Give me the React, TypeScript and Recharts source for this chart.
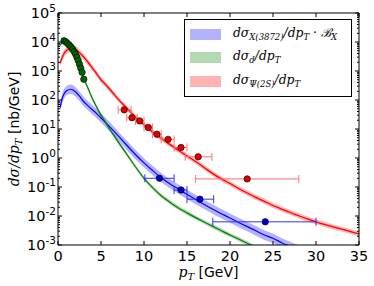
import React from 'react';
import { ComposedChart, Line, Area, Scatter, ErrorBar, XAxis, YAxis, ReferenceLine } from 'recharts';

// pT grid (GeV) shared by the three theory curves
const ptGrid = [0.25, 0.5, 0.75, 1, 1.5, 2, 2.5, 3, 3.5, 4, 4.5, 5, 5.5, 6, 6.5, 7, 8, 9, 10, 11, 12, 13, 14, 15, 16, 17, 18, 19, 20, 21, 22, 23, 24, 25, 26, 27, 28, 29, 30, 31, 32, 33, 34, 35];

// dsigma_Psi(2S)/dpT  (red)
const redMid = [1860, 3000, 4200, 5100, 6000, 5600, 4300, 3000, 2000, 1260, 800, 500, 350, 240, 160, 107, 52, 26, 14, 7.9, 4.8, 2.95, 1.86, 1.17, 0.76, 0.47, 0.29, 0.19, 0.132, 0.089, 0.062, 0.044, 0.032, 0.023, 0.0174, 0.0132, 0.0102, 0.0079, 0.0063, 0.0051, 0.0042, 0.0035, 0.0029, 0.0024];
const redLo = [1400, 2250, 3150, 3850, 4550, 4300, 3350, 2350, 1580, 1000, 640, 400, 282, 194, 130, 87, 42.5, 21.3, 11.5, 6.5, 3.95, 2.42, 1.53, 0.96, 0.62, 0.385, 0.238, 0.156, 0.108, 0.073, 0.051, 0.036, 0.026, 0.0189, 0.0143, 0.0108, 0.0084, 0.0065, 0.0052, 0.0042, 0.0034, 0.0029, 0.0024, 0.002];
const redHi = [2450, 3950, 5500, 6700, 7850, 7300, 5550, 3850, 2550, 1600, 1000, 625, 435, 297, 197, 131, 63.5, 31.7, 17.1, 9.6, 5.85, 3.6, 2.27, 1.43, 0.93, 0.575, 0.354, 0.232, 0.161, 0.109, 0.076, 0.054, 0.039, 0.0281, 0.0212, 0.0161, 0.0124, 0.0096, 0.0077, 0.0062, 0.0051, 0.0043, 0.0035, 0.0029];

// dsigma_X(3872)/dpT * B_X  (blue)
const blueMid = [55, 115, 170, 210, 235, 195, 135, 87, 63, 46, 34, 24, 17, 12, 8.4, 5.8, 2.75, 1.32, 0.68, 0.37, 0.21, 0.13, 0.085, 0.056, 0.037, 0.025, 0.017, 0.012, 0.0085, 0.006, 0.0043, 0.0031, 0.0022, 0.0017, 0.0012, 0.0009, 0.00068, 0.0005, null, null, null, null, null, null];
const blueLo = [38, 79, 117, 145, 162, 135, 93, 60, 43.5, 31.7, 23.5, 16.6, 11.7, 8.3, 5.8, 4.0, 1.9, 0.91, 0.47, 0.255, 0.145, 0.09, 0.059, 0.0386, 0.0255, 0.0173, 0.0117, 0.0083, 0.0059, 0.0041, 0.003, 0.0021, 0.0015, 0.00117, 0.00083, 0.00062, 0.00047, 0.00035, null, null, null, null, null, null];
const blueHi = [80, 167, 247, 305, 341, 283, 196, 126, 91, 66.7, 49, 34.8, 24.7, 17.4, 12.2, 8.4, 4.0, 1.91, 0.99, 0.54, 0.305, 0.189, 0.123, 0.081, 0.0537, 0.0363, 0.0247, 0.0174, 0.0123, 0.0087, 0.0062, 0.0045, 0.0032, 0.00247, 0.00174, 0.0013, 0.00099, 0.00073, null, null, null, null, null, null];

// dsigma_d/dpT  (green)
const greenMid = [7600, 10000, 11200, 10000, 6800, 4000, 1600, 560, 250, 112, 56, 30, 17.5, 10, 6, 3.6, 1.35, 0.5, 0.2, 0.095, 0.05, 0.03, 0.019, 0.0128, 0.0088, 0.0062, 0.0044, 0.0031, 0.0022, 0.0016, 0.00115, 0.00082, 0.0006, null, null, null, null, null, null, null, null, null, null, null];
const greenLo = [6460, 8500, 9520, 8500, 5780, 3400, 1360, 476, 212, 95, 47.6, 25.5, 14.9, 8.5, 5.1, 3.06, 1.15, 0.425, 0.17, 0.081, 0.0425, 0.0255, 0.0162, 0.0109, 0.0075, 0.0053, 0.0037, 0.0026, 0.0019, 0.00136, 0.00098, 0.0007, 0.00051, null, null, null, null, null, null, null, null, null, null, null];
const greenHi = [8970, 11800, 13200, 11800, 8020, 4720, 1890, 660, 295, 132, 66, 35.4, 20.7, 11.8, 7.1, 4.25, 1.59, 0.59, 0.236, 0.112, 0.059, 0.0354, 0.0224, 0.0151, 0.0104, 0.0073, 0.0052, 0.0037, 0.0026, 0.0019, 0.00136, 0.00097, 0.00071, null, null, null, null, null, null, null, null, null, null, null];

// measured points
const redPtX = [7.7, 8.6, 9.5, 10.5, 11.5, 12.8, 14.3, 16.3, 22];
const redPtY = [46, 24.5, 19, 11.3, 6.6, 4.4, 2.3, 1.1, 0.19];
const redBinLo = [7.0, 8.0, 9.0, 10.0, 11.0, 12.0, 13.5, 14.8, 16.0];
const redBinHi = [8.5, 9.2, 10.0, 11.0, 12.0, 13.5, 15.0, 17.9, 28.0];
const redYErr = [12, 4, 3, 1.6, 0.9, 0.6, 0.35, 0.18, 0.04];

const bluePtX = [11.8, 14.3, 16.5, 24.1];
const bluePtY = [0.2, 0.079, 0.038, 0.0063];
const blueBinLo = [10.1, 13.5, 15.0, 18.0];
const blueBinHi = [13.5, 15.0, 18.1, 30.0];
const blueYErr = [0.03, 0.012, 0.006, 0.001];

const greenPtX = [0.7, 0.9, 1.1, 1.3, 1.5, 1.7, 1.9, 2.05, 2.2, 2.35, 2.5, 2.65, 2.8, 3.0];
const greenPtY = [11000, 10200, 9000, 7900, 6800, 5600, 4600, 3800, 3000, 2300, 1700, 1250, 900, 520];

const xTicks = [0, 5, 10, 15, 20, 25, 30, 35];
const yTicks: number[] = [];
for (let e = -3; e <= 5; e++) {
  for (let m = 1; m <= 9; m++) {
    if (e === 5 && m > 1) break;
    yTicks.push(Number((m * Math.pow(10, e)).toPrecision(3)));
  }
}

const PL = 58, PR = 359, PT = 13, PB = 245;
const SANS = 'DejaVu Sans';
const MATH = 'DejaVu Serif';

const rows = ptGrid.map((pt, i) => ({
  pt,
  red: redMid[i],
  redBand: [redLo[i], redHi[i]],
  blue: blueMid[i],
  blueBand: blueLo[i] == null ? null : [blueLo[i], blueHi[i]],
  green: greenMid[i],
  greenBand: greenLo[i] == null ? null : [greenLo[i], greenHi[i]],
}));

const redPts = redPtX.map((pt, i) => ({ pt, val: redPtY[i], xerr: [pt - redBinLo[i], redBinHi[i] - pt], yerr: redYErr[i] }));
const bluePts = bluePtX.map((pt, i) => ({ pt, val: bluePtY[i], xerr: [pt - blueBinLo[i], blueBinHi[i] - pt], yerr: blueYErr[i] }));
const greenPts = greenPtX.map((pt, i) => ({ pt, val: greenPtY[i] }));

const isMajor = (v: number) => Math.abs(Math.log10(v) - Math.round(Math.log10(v))) < 1e-6;

const YTick = (props: any) => {
  const { y, payload } = props;
  const v = payload.value;
  const major = isMajor(v);
  const len = major ? 4 : 2;
  const e = Math.round(Math.log10(v));
  return (
    <g>
      <line x1={PL} x2={PL + len} y1={y} y2={y} stroke="#000" strokeWidth={1} />
      <line x1={PR} x2={PR - len} y1={y} y2={y} stroke="#000" strokeWidth={1} />
      {major && (
        <text x={56} y={y + 5} textAnchor="end" fontSize={14.5} fontFamily={SANS} fill="#000">
          10<tspan dy={-6} fontSize={10.5}>{e < 0 ? '-' + Math.abs(e) : String(e)}</tspan>
        </text>
      )}
    </g>
  );
};

const XTick = (props: any) => {
  const { x, payload } = props;
  return (
    <g>
      <line x1={x} x2={x} y1={PB} y2={PB - 4} stroke="#000" strokeWidth={1} />
      <line x1={x} x2={x} y1={PT} y2={PT + 4} stroke="#000" strokeWidth={1} />
      <text x={x} y={261} textAnchor="middle" fontSize={14.5} fontFamily={SANS} fill="#000">{payload.value}</text>
    </g>
  );
};

const XTitle = () => (
  <text x={(PL + PR) / 2} y={277} textAnchor="middle" fontSize={14} fontFamily={SANS} fill="#000">
    <tspan fontFamily={MATH} fontStyle="italic">p</tspan>
    <tspan fontFamily={MATH} fontStyle="italic" fontSize={10} dy={3}>T</tspan>
    <tspan dy={-3}>{' [GeV]'}</tspan>
  </text>
);

const YTitle = () => (
  <text x={19} y={(PT + PB) / 2} transform={`rotate(-90 19 ${(PT + PB) / 2})`} textAnchor="middle" fontSize={14} fontFamily={SANS} fill="#000">
    <tspan fontFamily={MATH} fontStyle="italic">dσ/dp</tspan>
    <tspan fontFamily={MATH} fontStyle="italic" fontSize={10} dy={3}>T</tspan>
    <tspan dy={-3}>{' [nb/GeV]'}</tspan>
  </text>
);

const dot = (fill: string) => (p: any) => (
  <circle cx={p.cx} cy={p.cy} r={3.2} fill={fill} stroke="#000" strokeWidth={0.6} />
);

const sub: React.CSSProperties = { fontSize: 8.5, verticalAlign: '-3px', lineHeight: 1 };

const legendItems = [
  {
    color: '#0000ff',
    label: (
      <>dσ<span style={sub}>X(3872)</span>/dp<span style={sub}>T</span>{' · ℬ'}<span style={sub}>X</span></>
    ),
  },
  { color: '#008000', label: (<>dσ<span style={sub}>d</span>/dp<span style={sub}>T</span></>) },
  { color: '#ff0000', label: (<>dσ<span style={sub}>Ψ(2S)</span>/dp<span style={sub}>T</span></>) },
];

export default function App() {
  return (
    <div style={{ position: 'absolute', left: 0, top: 0, width: 374, height: 286, background: '#fff' }}>
      <ComposedChart width={374} height={286} data={rows} margin={{ top: PT, right: 374 - PR, bottom: 0, left: 0 }}>
        <XAxis
          type="number"
          dataKey="pt"
          domain={[0, 35]}
          ticks={xTicks}
          interval={0}
          allowDataOverflow
          height={286 - PB}
          tick={<XTick />}
          tickLine={false}
          axisLine={{ stroke: '#000' }}
          label={<XTitle />}
        />
        <YAxis
          scale="log"
          domain={[0.001, 100000]}
          ticks={yTicks}
          interval={0}
          allowDataOverflow
          width={PL}
          tick={<YTick />}
          tickLine={false}
          axisLine={{ stroke: '#000' }}
          label={<YTitle />}
        />
        <Area dataKey="blueBand" type="monotone" stroke="none" fill="#0000ff" fillOpacity={0.3} isAnimationActive={false} />
        <Area dataKey="greenBand" type="monotone" stroke="none" fill="#008000" fillOpacity={0.3} isAnimationActive={false} />
        <Area dataKey="redBand" type="monotone" stroke="none" fill="#ff0000" fillOpacity={0.3} isAnimationActive={false} />
        <Line dataKey="blue" type="monotone" stroke="#0000ff" strokeWidth={1.2} dot={false} isAnimationActive={false} />
        <Line dataKey="green" type="monotone" stroke="#008000" strokeWidth={1.2} dot={false} isAnimationActive={false} />
        <Line dataKey="red" type="monotone" stroke="#ff0000" strokeWidth={1.3} dot={false} isAnimationActive={false} />
        <Scatter data={greenPts} dataKey="val" shape={dot('#006400')} isAnimationActive={false} />
        <Scatter data={redPts} dataKey="val" shape={dot('#e00000')} isAnimationActive={false}>
          <ErrorBar dataKey="xerr" direction="x" stroke="#ff7070" strokeWidth={1} width={4} />
          <ErrorBar dataKey="yerr" direction="y" stroke="#ff7070" strokeWidth={1} width={0} />
        </Scatter>
        <Scatter data={bluePts} dataKey="val" shape={dot('#0000d0')} isAnimationActive={false}>
          <ErrorBar dataKey="xerr" direction="x" stroke="#3030ff" strokeWidth={1} width={4} />
          <ErrorBar dataKey="yerr" direction="y" stroke="#3030ff" strokeWidth={1} width={0} />
        </Scatter>
        <ReferenceLine y={100000} stroke="#000" strokeWidth={1} />
        <ReferenceLine x={35} stroke="#000" strokeWidth={1} />
      </ComposedChart>
      <div
        style={{
          position: 'absolute', left: 184, top: 19, width: 168, height: 78, boxSizing: 'border-box',
          border: '1px solid #000', background: '#fff',
        }}
      >
        {legendItems.map((it, i) => (
          <div key={i} style={{ position: 'absolute', left: 5, top: 8 + i * 23.5, height: 12, display: 'flex', alignItems: 'center' }}>
            <div style={{ width: 31, height: 11, background: it.color, opacity: 0.3 }} />
            <div style={{ marginLeft: 12, fontFamily: MATH, fontStyle: 'italic', fontSize: 12.3, whiteSpace: 'nowrap', lineHeight: '12px', color: '#000' }}>
              {it.label}
            </div>
          </div>
        ))}
      </div>
    </div>
  );
}
